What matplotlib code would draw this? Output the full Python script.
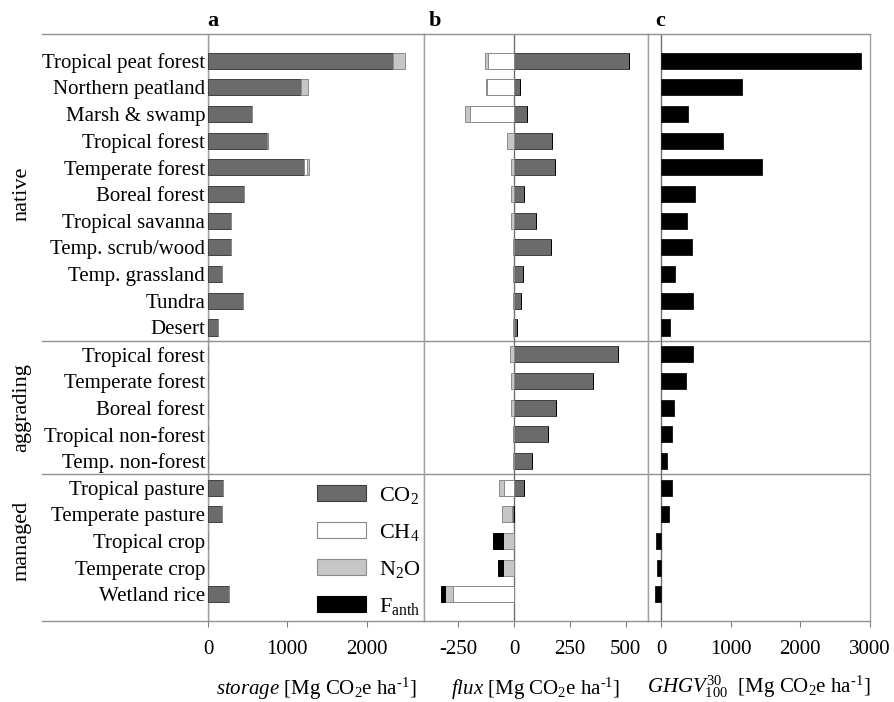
import numpy as np
import matplotlib.pyplot as plt
from matplotlib.lines import Line2D
from matplotlib.patches import Patch
from matplotlib.transforms import blended_transform_factory

plt.rcParams['font.family'] = ['Liberation Serif', 'DejaVu Serif']
plt.rcParams['mathtext.fontset'] = 'custom'
plt.rcParams['mathtext.rm'] = 'Liberation Serif'
plt.rcParams['mathtext.it'] = 'Liberation Serif:italic'
plt.rcParams['mathtext.bf'] = 'Liberation Serif:bold'
plt.rcParams['axes.unicode_minus'] = False

# ecosystem rows, top to bottom
ecosystems = ['Tropical peat forest', 'Northern peatland', 'Marsh & swamp', 'Tropical forest',
              'Temperate forest', 'Boreal forest', 'Tropical savanna', 'Temp. scrub/wood',
              'Temp. grassland', 'Tundra', 'Desert',
              'Tropical forest', 'Temperate forest', 'Boreal forest', 'Tropical non-forest',
              'Temp. non-forest',
              'Tropical pasture', 'Temperate pasture', 'Tropical crop', 'Temperate crop',
              'Wetland rice']
groups = ['native', 'aggrading', 'managed']
group_sizes = [11, 5, 5]

# panel a: storage
storage_co2 = [2330, 1170, 550, 745, 1208, 457, 285, 289, 172, 436, 122,
               0, 0, 0, 0, 0,
               193, 172, 0, 0, 264]
storage_ch4 = [0, 0, 0, 10, 35, 0, 0, 0, 0, 0, 0,
               0, 0, 0, 0, 0,
               0, 0, 0, 0, 0]
storage_n2o = [155, 90, 0, 0, 25, 0, 0, 0, 0, 0, 0,
               0, 0, 0, 0, 0,
               0, 0, 0, 0, 0]

# panel b: flux
flux_co2 = [516, 27, 58, 169, 184, 45, 99, 166, 39, 31, 13,
            465, 353, 187, 150, 81,
            42, -10, 0, 0, 0]
flux_ch4 = [-118, -123, -200, 0, 0, 0, 0, 0, 0, 0, 0,
            0, 0, 0, 0, 0,
            -46, 0, 0, 0, -275]
flux_n2o = [-11, -2, -22, -31, -12, -12, -13, -5, -5, -5, -3,
            -17, -12, -12, -7, -7,
            -23, -45, -52, -52, -35]
flux_fanth = [0, 0, 0, 0, 0, 0, 0, 0, 0, 0, 0,
              0, 0, 0, 0, 0,
              0, 0, -43, -22, -18]

# panel c: GHGV
ghgv = [2865, 1167, 392, 890, 1445, 493, 368, 445, 206, 464, 134,
        464, 359, 187, 158, 91,
        158, 115, -77, -53, -81]

gas_names = ['CO$_2$', 'CH$_4$', 'N$_2$O', 'F$_{\\mathregular{anth}}$']
gas_fill = ['#6b6b6b', 'white', '#c6c6c6', 'black']
gas_edge = ['#404040', '#888888', '#8c8c8c', 'black']

frame_col = '#a0a0a0'
W, H = 894, 702

fig = plt.figure(figsize=(8.94, 7.02), dpi=100)
top, bot = 34, 621


def make_ax(x0, x1):
    return fig.add_axes([x0 / W, 1 - bot / H, (x1 - x0) / W, (bot - top) / H])


ax_a = make_ax(208, 424)
ax_b = make_ax(424, 648)
ax_c = make_ax(648, 870)

y = np.arange(len(ecosystems))
bh = 0.6


def stacked(ax, series):
    pos = np.zeros(len(y))
    neg = np.zeros(len(y))
    for i, s in enumerate(series):
        v = np.array(s, dtype=float)
        left = np.where(v >= 0, pos, neg)
        ax.barh(y, v, left=left, height=bh, color=gas_fill[i],
                edgecolor=gas_edge[i], linewidth=0.7, zorder=3)
        pos = pos + np.where(v > 0, v, 0)
        neg = neg + np.where(v < 0, v, 0)


stacked(ax_a, [storage_co2, storage_ch4, storage_n2o])
stacked(ax_b, [flux_co2, flux_ch4, flux_n2o, flux_fanth])
ax_c.barh(y, ghgv, height=bh, color='black', edgecolor='#202020', linewidth=0.7, zorder=3)

ax_a.set_xlim(0, 2720)
ax_b.set_xlim(-404, 600)
ax_c.set_xlim(-187, 3000)
ax_a.set_xticks([0, 1000, 2000])
ax_b.set_xticks([-250, 0, 250, 500])
ax_c.set_xticks([0, 1000, 2000, 3000])

for ax in (ax_a, ax_b, ax_c):
    ax.set_ylim(len(ecosystems), -1)
    for sp in ax.spines.values():
        sp.set_color(frame_col)
        sp.set_linewidth(1.0)
    ax.spines['top'].set_visible(False)
    ax.spines['bottom'].set_visible(False)
    ax.tick_params(axis='x', direction='out', length=4, width=0.8, color='#808080',
                   pad=10, labelsize=15)
    ax.axvline(0, color='#707070', linewidth=1.0, zorder=2)
    for b in np.cumsum(group_sizes)[:-1]:
        ax.axhline(b - 0.5, color='#909090', linewidth=1.0, zorder=1)

ax_a.set_yticks(y)
ax_a.set_yticklabels(ecosystems, fontsize=15)
ax_a.tick_params(axis='y', length=0, pad=2)
ax_b.set_yticks([])
ax_c.set_yticks([])

unit = ' [Mg CO$_2$e ha$^{\\text{-1}}$]'
ax_a.set_xlabel('$storage$' + unit, fontsize=15, labelpad=12)
ax_b.set_xlabel('$flux$' + unit, fontsize=15, labelpad=12)
ax_c.set_xlabel('$GHGV^{\\mathit{30}}_{\\mathit{100}}$ ' + unit, fontsize=15, labelpad=10)

# long horizontal rules across the whole figure
for yy in (top, bot):
    fig.add_artist(Line2D([42 / W, 870 / W], [1 - yy / H, 1 - yy / H],
                          color='#909090', linewidth=1.0))
for b in np.cumsum(group_sizes)[:-1]:
    yy = top + (b - 0.5 + 1) * (bot - top) / (len(ecosystems) + 1)
    fig.add_artist(Line2D([42 / W, 208 / W], [1 - yy / H, 1 - yy / H],
                          color='#909090', linewidth=1.0))

# group labels
trans = blended_transform_factory(fig.transFigure, ax_a.transData)
start = 0
for g, n in zip(groups, group_sizes):
    mid = start + (n - 1) / 2
    ax_a.text(22 / W, mid, g, transform=trans, rotation=90,
              ha='center', va='center', fontsize=16)
    start += n

# panel letters
for letter, xp in zip('abc', (213, 435, 660)):
    fig.text(xp / W, 1 - 21 / H, letter, fontsize=16, fontweight='bold', ha='center', va='center')

handles = [Patch(facecolor=f, edgecolor=e, linewidth=0.8) for f, e in zip(gas_fill, gas_edge)]
ax_a.legend(handles, gas_names, loc='upper left', bbox_to_anchor=(0.505, 0.232),
            frameon=False, fontsize=16, handlelength=2.2, handleheight=0.7,
            labelspacing=0.72, handletextpad=0.6, borderpad=0, borderaxespad=0)

fig.savefig('out.png', dpi=100, facecolor='white')
